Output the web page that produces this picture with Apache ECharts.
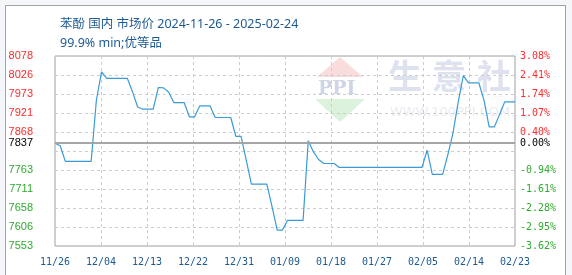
<!DOCTYPE html>
<html>
<head>
<meta charset="utf-8">
<script src="https://cdn.jsdelivr.net/npm/echarts@6/dist/echarts.min.js"></script>
<style>
html,body{margin:0;padding:0;background:#f4f6f9;width:572px;height:275px;overflow:hidden;}
#frame{position:absolute;left:5px;top:5px;width:559px;height:300px;border:1px solid #a3a3a3;background:#fff;}
#chart{position:absolute;left:0;top:0;width:572px;height:275px;}
</style>
</head>
<body>
<div id="frame"></div>
<div id="chart"></div>
<script>
const titleText = '苯酚 国内 市场价 2024-11-26 - 2025-02-24';
const subTitleText = '99.9% min;优等品';

const dates = [
 '2024-11-26','2024-11-27','2024-11-28','2024-11-29','2024-11-30',
 '2024-12-01','2024-12-02','2024-12-03','2024-12-04','2024-12-05','2024-12-06','2024-12-07','2024-12-08','2024-12-09','2024-12-10',
 '2024-12-11','2024-12-12','2024-12-13','2024-12-14','2024-12-15','2024-12-16','2024-12-17','2024-12-18','2024-12-19','2024-12-20',
 '2024-12-21','2024-12-22','2024-12-23','2024-12-24','2024-12-25','2024-12-26','2024-12-27','2024-12-28','2024-12-29','2024-12-30','2024-12-31',
 '2025-01-01','2025-01-02','2025-01-03','2025-01-04','2025-01-05','2025-01-06','2025-01-07','2025-01-08','2025-01-09','2025-01-10',
 '2025-01-11','2025-01-12','2025-01-13','2025-01-14','2025-01-15','2025-01-16','2025-01-17','2025-01-18','2025-01-19','2025-01-20',
 '2025-01-21','2025-01-22','2025-01-23','2025-01-24','2025-01-25','2025-01-26','2025-01-27','2025-01-28','2025-01-29','2025-01-30','2025-01-31',
 '2025-02-01','2025-02-02','2025-02-03','2025-02-04','2025-02-05','2025-02-06','2025-02-07','2025-02-08','2025-02-09','2025-02-10',
 '2025-02-11','2025-02-12','2025-02-13','2025-02-14','2025-02-15','2025-02-16','2025-02-17','2025-02-18','2025-02-19','2025-02-20',
 '2025-02-21','2025-02-22','2025-02-23'
];

const prices = [
 7837,7830,7787,7787,7787,
 7787,7787,7787,7955,8034,8016,8016,8016,8016,8016,
 7979,7937,7931,7931,7931,7991,7990,7978,7949,7949,
 7949,7910,7910,7940,7940,7940,7908,7908,7908,7908,7856,
 7856,7790,7724,7724,7724,7724,7661,7597,7597,7624,
 7624,7624,7624,7844,7813,7792,7781,7781,7781,7770,
 7770,7770,7770,7770,7770,7770,7770,7770,7770,7770,7770,
 7770,7770,7770,7770,7770,7818,7751,7751,7751,7805,
 7865,7950,8024,8004,8004,8004,7956,7882,7882,7916,
 7951,7951,7951
];

const yMin = 7553, yMax = 8078, yStep = 52.5;
const hiddenTick = 7815.5;
const xTickStep = 8.9;

const base = prices[0];
const DAY = 86400000;
function toUTC(s){const p=s.split('-').map(Number);return Date.UTC(p[0],p[1]-1,p[2]);}
const t0 = toUTC(dates[0]);
const dayIdx = dates.map(d => Math.round((toUTC(d)-t0)/DAY));
const seriesData = dayIdx.map((d,i)=>[d, prices[i]]);
const lastDay = dayIdx[dayIdx.length-1];
function pad(n){return (n<10?'0':'')+n;}

const RED = '#ff2b2b', GREEN = '#2fab2f';
function labColor(v){ return v > base ? RED : (v < base ? GREEN : '#000'); }
const MONO = 'DejaVu Sans Mono';
const TFONT = "'Noto Sans', 'Noto Sans CJK SC'";

const chart = echarts.init(document.getElementById('chart'), null, {renderer:'canvas'});
chart.setOption({
  animation:false,
  backgroundColor:'transparent',
  title:[
    {text:titleText, left:55, top:13, textStyle:{fontSize:12.5, fontWeight:'normal', color:'#1d5a92', fontFamily:TFONT}},
    {text:subTitleText, left:55, top:32, textStyle:{fontSize:12.5, fontWeight:'normal', color:'#1d5a92', fontFamily:TFONT}}
  ],
  grid:{left:55, right:57, top:56, bottom:29, show:true, borderColor:'#a0a0a0', borderWidth:1, backgroundColor:'transparent'},
  graphic:[
    {type:'polygon', z:-10, shape:{points:[[340,57],[317,77],[363,77]]}, style:{fill:'#f9dcdc'}},
    {type:'polygon', z:-10, shape:{points:[[315,99],[365,99],[340,122]]}, style:{fill:'#dcf2dc'}},
    {type:'text', z:-10, left:318, top:80, style:{text:'PPI', fill:'#cdd5e6', font:'bold 19px "DejaVu Serif"'}},
    {type:'text', z:-10, left:388, top:59, style:{text:'生', fill:'#dde2ee', font:'bold 34px "Noto Sans CJK SC"'}},
    {type:'text', z:-10, left:432, top:59, style:{text:'意', fill:'#dde2ee', font:'bold 34px "Noto Sans CJK SC"'}},
    {type:'text', z:-10, left:477, top:59, style:{text:'社', fill:'#dde2ee', font:'bold 34px "Noto Sans CJK SC"'}},
    {type:'text', z:-10, left:390, top:106, style:{text:'WWW.100PPI.COM', fill:'#e8ebf1', font:'13px "DejaVu Sans"'}}
  ],
  xAxis:{
    type:'value', min:0, max:lastDay, interval:xTickStep,
    axisLine:{show:false}, axisTick:{show:false},
    splitLine:{show:true, lineStyle:{color:'#cccccc', type:[3,3], width:1}},
    axisLabel:{margin:11, fontFamily:MONO, fontSize:10, color:'#1d5a92',
      formatter:function(v){const d=new Date(t0+Math.floor(v+1e-6)*DAY);return pad(d.getUTCMonth()+1)+'/'+pad(d.getUTCDate());}}
  },
  yAxis:[
    {type:'value', position:'left', min:yMin, max:yMax, interval:yStep,
      axisLine:{show:false}, axisTick:{show:false},
      splitLine:{show:true, lineStyle:{color:'#cccccc', type:[3,3], width:1}},
      axisLabel:{margin:22, fontFamily:'Liberation Sans', fontSize:11,
        color:function(v){return labColor(Number(v));},
        formatter:function(v){return Math.abs(v-hiddenTick)<0.01?'':String(Math.round(v));}}
    },
    {type:'value', position:'right', min:yMin, max:yMax, interval:yStep,
      axisLine:{show:false}, axisTick:{show:false}, splitLine:{show:false},
      axisLabel:{margin:5, fontFamily:MONO, fontSize:10,
        color:function(v){return labColor(Number(v));},
        formatter:function(v){return Math.abs(v-hiddenTick)<0.01?'':((v/base-1)*100).toFixed(2)+'%';}}
    }
  ],
  series:[{
    type:'line', data:seriesData, showSymbol:false, symbol:'none',
    lineStyle:{color:'#3a9ad8', width:1.2},
    markLine:{
      silent:true, symbol:'none',
      lineStyle:{color:'#a0a0a0', type:'solid', width:1.5},
      data:[
        {yAxis:base, label:{show:true, position:'start', distance:22, formatter:String(base), color:'#000', fontFamily:'Liberation Sans', fontSize:11}},
        {yAxis:base, label:{show:true, position:'end', distance:5, formatter:'0.00%', color:'#000', fontFamily:MONO, fontSize:10}}
      ]
    }
  }]
});
</script>
</body>
</html>
